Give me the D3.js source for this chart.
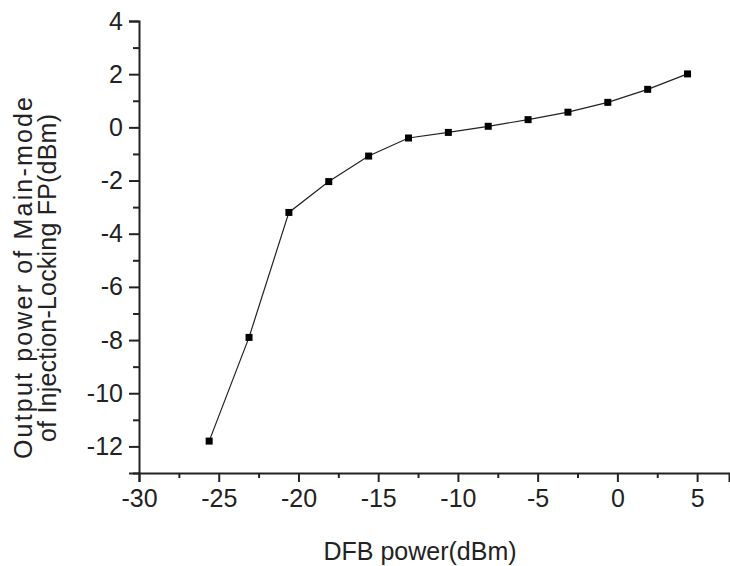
<!DOCTYPE html>
<html><head><meta charset="utf-8">
<script src="https://cdn.jsdelivr.net/npm/d3@7"></script>
<style>
html,body{margin:0;padding:0;background:#fff;}
svg{display:block;}
text{font-family:"Liberation Sans",Arial,sans-serif;fill:#222;}
</style></head>
<body>
<svg id="chart" width="730" height="566"></svg>
<script>
const dfbPower = [-25.6, -23.1, -20.6, -18.1, -15.6, -13.1, -10.6, -8.1, -5.6, -3.1, -0.6, 1.9, 4.4];
const outputPower = [-11.8, -7.9, -3.2, -2.04, -1.08, -0.4, -0.19, 0.04, 0.29, 0.57, 0.94, 1.43, 2.01];
const xTicks = [-30, -25, -20, -15, -10, -5, 0, 5];
const yTicks = [-12, -10, -8, -6, -4, -2, 0, 2, 4];
const xMinorTicks = [-27.5, -22.5, -17.5, -12.5, -7.5, -2.5, 2.5];
const yMinorTicks = [-13, -11, -9, -7, -5, -3, -1, 1, 3];
const xTitle = "DFB power(dBm)";
const yTitleLines = ["Output power of Main-mode", "of Injection-Locking FP(dBm)"];

const svg = d3.select("#chart");
const x = d3.scaleLinear().domain([-30, 7]).range([139, 729]);
const y = d3.scaleLinear().domain([-13, 4]).range([473, 21]);
const fs = 25;

svg.append("g").attr("transform", "translate(0,473)")
  .call(d3.axisBottom(x).tickValues(xTicks).tickSize(9).tickPadding(7).tickFormat(d3.format("d")));
svg.append("g").attr("transform", "translate(0,473)")
  .call(d3.axisBottom(x).tickValues(xMinorTicks).tickSize(5).tickFormat(""))
  .call(g => g.select(".domain").remove());
svg.append("g").attr("transform", "translate(139,0)")
  .call(d3.axisLeft(y).tickValues(yTicks).tickSize(10).tickPadding(6).tickFormat(d3.format("d")));
svg.append("g").attr("transform", "translate(139,0)")
  .call(d3.axisLeft(y).tickValues(yMinorTicks).tickSize(6).tickFormat(""))
  .call(g => g.select(".domain").remove());

svg.selectAll(".domain").attr("stroke", "#222").attr("stroke-width", 2);
svg.selectAll(".tick line").attr("stroke", "#222").attr("stroke-width", 2);
svg.selectAll(".tick text").attr("font-size", fs).attr("font-family", "Liberation Sans, Arial, sans-serif").attr("fill", "#222");
svg.selectAll(".tick text").text(function(){ return d3.select(this).text().replace("\u2212","-"); });

svg.append("text").attr("x", 420).attr("y", 560).attr("text-anchor", "middle")
  .attr("font-size", fs).text(xTitle);
const yLens = [362, 328];
svg.append("g").attr("transform", "translate(32,278) rotate(-90)")
  .selectAll("text").data(yTitleLines).join("text")
  .attr("x", 0).attr("y", (d, i) => i * 24).attr("text-anchor", "middle")
  .attr("textLength", (d, i) => yLens[i]).attr("lengthAdjust", "spacing")
  .attr("font-size", fs).text(d => d);

const pts = dfbPower.map((d, i) => [d, outputPower[i]]);
svg.append("path").datum(pts)
  .attr("fill", "none").attr("stroke", "#222").attr("stroke-width", 1.2)
  .attr("d", d3.line().x(d => x(d[0])).y(d => y(d[1])));
svg.selectAll("rect.m").data(pts).join("rect").attr("class", "m")
  .attr("x", d => x(d[0]) - 3.5).attr("y", d => y(d[1]) - 3.5)
  .attr("width", 7).attr("height", 7).attr("fill", "#000");
</script>
</body></html>
